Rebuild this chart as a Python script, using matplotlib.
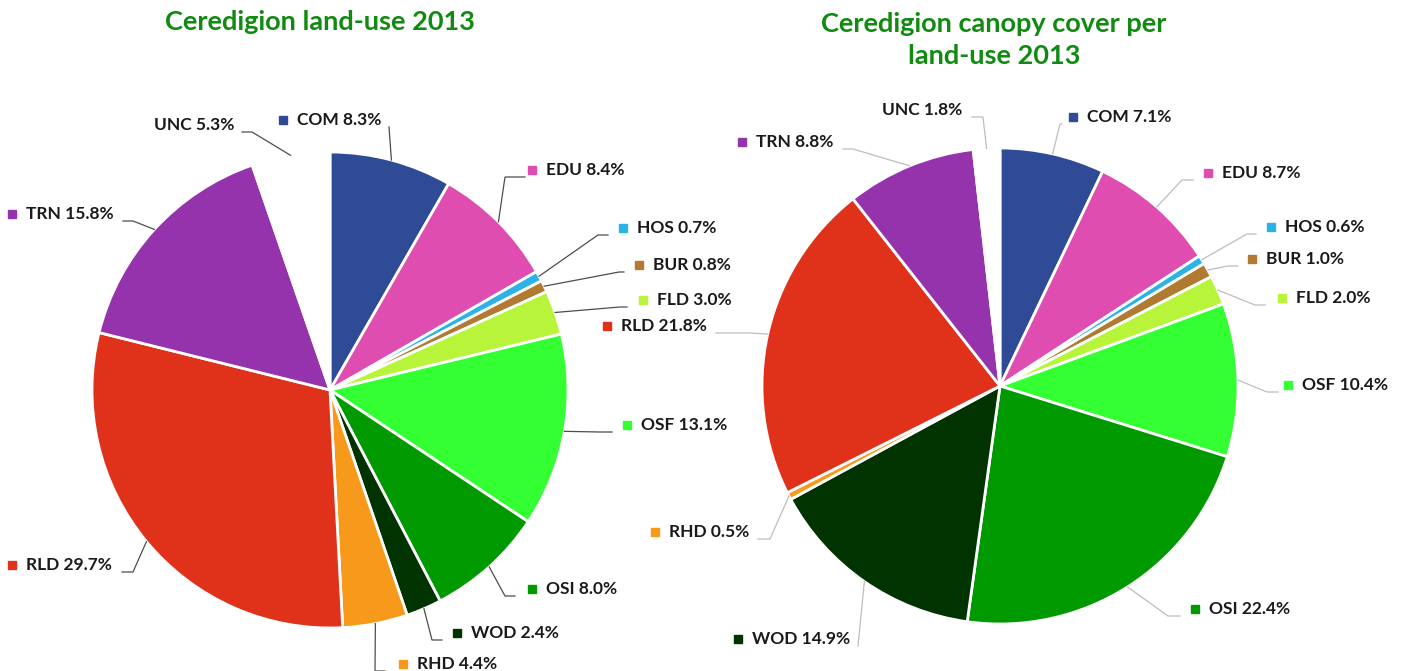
import numpy as np
import matplotlib.pyplot as plt

# data (percent)
categories = ['COM', 'EDU', 'HOS', 'BUR', 'FLD', 'OSF', 'OSI', 'WOD', 'RHD', 'RLD', 'TRN', 'UNC']
landuse_2013 = [8.3, 8.4, 0.7, 0.8, 3.0, 13.1, 8.0, 2.4, 4.4, 29.7, 15.8, 5.3]
canopy_2013 = [7.1, 8.7, 0.6, 1.0, 2.0, 10.4, 22.4, 14.9, 0.5, 21.8, 8.8, 1.8]
colors = ['#2f4b96', '#e04db0', '#2bb3e6', '#b07a30', '#b8f53a', '#33ff33',
          '#009900', '#003300', '#f7991a', '#e0321a', '#9533ad', '#ffffff']

W, H = 1405, 671
TITLE_COLOR = '#108a10'

# label layout in pixels: marker x, label y, leader start x, leader elbow x
layout_left = {
    'COM': (283, 120, 389, 389), 'EDU': (532, 170, 525, 505),
    'HOS': (623, 228, 608, 598), 'BUR': (639, 265, 624, 619),
    'FLD': (643, 300, 627, 620), 'OSF': (627, 425, 612, 600),
    'OSI': (532, 589, 515, 505), 'WOD': (457, 633, 442, 432),
    'RHD': (403, 664, 385, 375), 'RLD': (12, 565, 122, 133),
    'TRN': (12, 214, 123, 133), 'UNC': (140, 125, 242, 252),
}
layout_right = {
    'COM': (1073, 117, 1062, 1060), 'EDU': (1208, 173, 1193, 1182),
    'HOS': (1271, 227, 1256, 1247), 'BUR': (1252, 259, 1238, 1228),
    'FLD': (1282, 298, 1265, 1255), 'OSF': (1288, 385, 1278, 1267),
    'OSI': (1195, 609, 1180, 1168), 'WOD': (738, 639, 858, 858),
    'RHD': (655, 532, 758, 770), 'RLD': (607, 326, 716, 750),
    'TRN': (742, 142, 843, 853), 'UNC': (868, 110, 972, 983),
}

plt.rcParams['font.family'] = ['Lato', 'DejaVu Sans']

fig = plt.figure(figsize=(W / 100, H / 100), dpi=100)
ax = fig.add_axes([0, 0, 1, 1])


def dibujar_pie(valores, centro, radio, layout, color_linea):
    cx, cy = centro[0], H - centro[1]
    wedges, _ = ax.pie(valores, colors=colors, startangle=90, counterclock=False,
                       center=(cx, cy), radius=radio,
                       wedgeprops=dict(edgecolor='white', linewidth=2))
    for w, cat, val, col in zip(wedges, categories, valores, colors):
        mx, my, sx, ex = layout[cat]
        ang = np.deg2rad((w.theta1 + w.theta2) / 2)
        axp, ayp = cx + radio * np.cos(ang), cy + radio * np.sin(ang)
        ly = H - (my + 7)
        ax.plot([sx, ex, axp], [ly, ly, ayp], color=color_linea, lw=0.9,
                solid_joinstyle='miter', zorder=1)
        ax.plot(mx, H - my, marker='s', ms=6, color=col, mec=col, ls='none')
        ax.text(mx + 14, H - my, f'{cat} {val:.1f}%', fontsize=12.5,
                fontweight='bold', color='#1a1a1a', ha='left', va='center')


dibujar_pie(landuse_2013, (330, 390), 238, layout_left, '#4d4d4d')
dibujar_pie(canopy_2013, (1000, 386), 238, layout_right, '#bdbdbd')

# titulos
ax.text(320, H - 22, 'Ceredigion land-use 2013', fontsize=19.5, fontweight='bold',
        color=TITLE_COLOR, ha='center', va='center')
ax.text(994, H - 40, 'Ceredigion canopy cover per\nland-use 2013', fontsize=19.5,
        fontweight='bold', color=TITLE_COLOR, ha='center', va='center',
        linespacing=1.35)

ax.set_xlim(0, W)
ax.set_ylim(0, H)
ax.set_aspect('equal')
ax.axis('off')

plt.savefig('out.png', dpi=100)
